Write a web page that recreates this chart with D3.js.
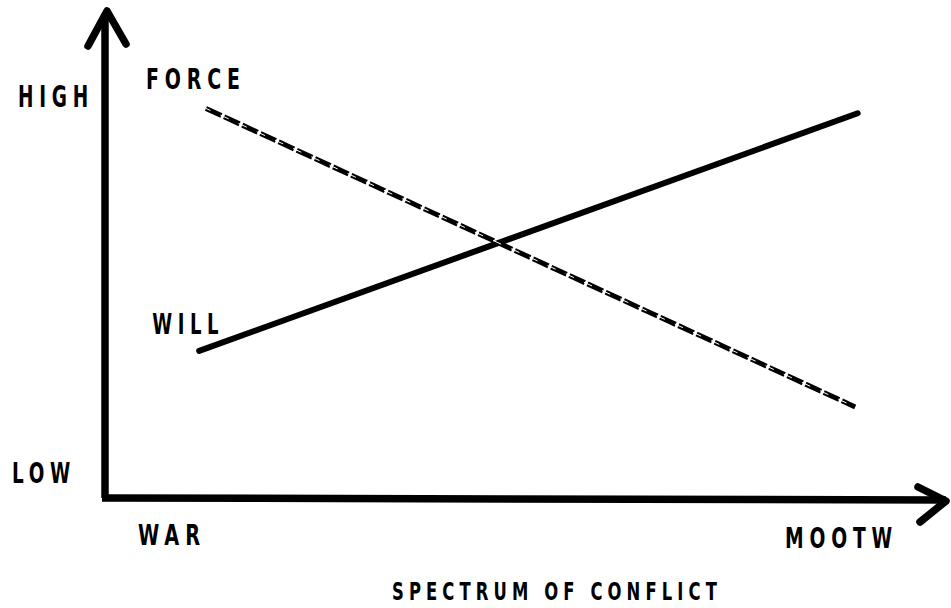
<!DOCTYPE html>
<html>
<head>
<meta charset="utf-8">
<script src="https://cdn.jsdelivr.net/npm/d3@7"></script>
<style>
  body { margin: 0; background: #fff; }
  text { font-family: "DejaVu Sans Condensed", "DejaVu Sans", sans-serif; font-stretch: condensed; font-weight: bold; fill: #000; }
</style>
</head>
<body>
<div id="svg-div"></div>
<script>
// spectrum position: 0 = war, 100 = far end of axis
var forceX = [12, 89.2];
var forceY = [80, 18.7];
var willX = [11.2, 89.5];
var willY = [30.2, 79];

var yLabels = ['HIGH', 'LOW'];
var xLabels = ['WAR', 'MOOTW'];
var xTitle = 'SPECTRUM OF CONFLICT';

const width = 951;
const height = 608;
const originX = 105;
const originY = 498;

const xScale = d3.scaleLinear().domain([0, 100]).range([originX, 946]);
const yScale = d3.scaleLinear().domain([0, 100]).range([originY, 11]);

const svg = d3.select('#svg-div')
              .append('svg')
                .attr('width', width)
                .attr('height', height);

// axes
svg.append('line')
     .attr('x1', xScale(0)).attr('y1', yScale(0))
     .attr('x2', xScale(0)).attr('y2', yScale(100) + 3)
     .attr('stroke', '#000').attr('stroke-width', 7.5);
svg.append('line')
     .attr('x1', xScale(0) - 3).attr('y1', yScale(0))
     .attr('x2', xScale(100)).attr('y2', yScale(0) + 2)
     .attr('stroke', '#000').attr('stroke-width', 7.5);

// arrow heads
svg.append('path')
     .attr('d', `M${xScale(0) - 17},${yScale(100) + 35} L${xScale(0) + 2},${yScale(100)} L${xScale(0) + 21},${yScale(100) + 33}`)
     .attr('fill', 'none').attr('stroke', '#000').attr('stroke-width', 7.5)
     .attr('stroke-linecap', 'round').attr('stroke-linejoin', 'round');
svg.append('path')
     .attr('d', `M${xScale(100) - 28},${yScale(0) - 11} L${xScale(100)},${yScale(0) + 3} L${xScale(100) - 26},${yScale(0) + 24}`)
     .attr('fill', 'none').attr('stroke', '#000').attr('stroke-width', 7.5)
     .attr('stroke-linecap', 'round').attr('stroke-linejoin', 'round');

const line = d3.line()
               .x(d => xScale(d[0]))
               .y(d => yScale(d[1]));

// will line
svg.append('path')
     .attr('d', line(d3.zip(willX, willY)))
     .attr('fill', 'none').attr('stroke', '#000').attr('stroke-width', 6)
     .attr('stroke-linecap', 'round');

// force line (broken stroke)
svg.append('path')
     .attr('d', line(d3.zip(forceX, forceY)))
     .attr('fill', 'none').attr('stroke', '#000').attr('stroke-width', 5)
     .attr('stroke-dasharray', '17,3');
svg.append('path')
     .attr('d', line(d3.zip(forceX, forceY)))
     .attr('fill', 'none').attr('stroke', '#fff').attr('stroke-width', 1)
     .attr('stroke-dasharray', '9,11')
     .attr('stroke-dashoffset', 4);

// squeezed, spaced lettering like the typed original
function label(str, x, y, len, size) {
    svg.append('text')
         .attr('x', x).attr('y', y)
         .attr('font-size', size)
         .attr('letter-spacing', size * 0.28)
         .attr('textLength', len)
         .attr('lengthAdjust', 'spacingAndGlyphs')
         .text(str);
}

// series labels
label('FORCE', xScale(forceX[0]) - 60, yScale(forceY[0]) - 19, 100, 29);
label('WILL', xScale(willX[0]) - 47, yScale(willY[0]) - 17, 72, 29);

// axis labels
label(yLabels[0], 18, 107, 76, 30);
label(yLabels[1], 12, 483, 64, 29);
label(xLabels[0], 138, 545, 68, 29);
label(xLabels[1], 785, 548, 113, 28);
label(xTitle, 392, 600, 330, 25);
</script>
</body>
</html>
